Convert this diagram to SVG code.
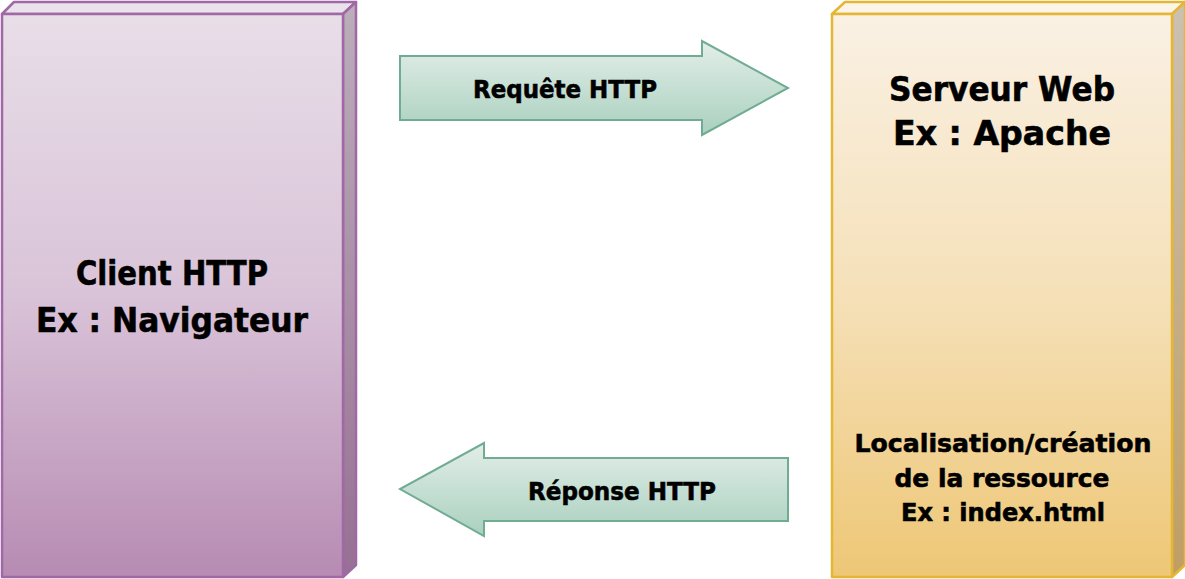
<svg xmlns="http://www.w3.org/2000/svg" width="1185" height="579" viewBox="0 0 1185 579">
<defs>
<linearGradient id="gPurple" x1="0" y1="0" x2="0" y2="1">
<stop offset="0" stop-color="#e8dee8"/><stop offset="0.5" stop-color="#d9c3d8"/><stop offset="1" stop-color="#b78bb3"/>
</linearGradient>
<linearGradient id="gPurpleSide" x1="0" y1="0" x2="0" y2="1">
<stop offset="0" stop-color="#bcaebb"/><stop offset="1" stop-color="#977093"/>
</linearGradient>
<linearGradient id="gGold" x1="0" y1="0" x2="0" y2="1">
<stop offset="0" stop-color="#faf1e4"/><stop offset="0.5" stop-color="#f5e0b8"/><stop offset="1" stop-color="#eec776"/>
</linearGradient>
<linearGradient id="gGoldSide" x1="0" y1="0" x2="0" y2="1">
<stop offset="0" stop-color="#cbc1b3"/><stop offset="1" stop-color="#bf9e63"/>
</linearGradient>
<linearGradient id="gGreen" x1="0" y1="0" x2="0" y2="1">
<stop offset="0" stop-color="#e3eee8"/><stop offset="1" stop-color="#a9d0bf"/>
</linearGradient>
<style>
.pb{stroke:#a068a4;stroke-width:2.5;stroke-linejoin:round}
.gb{stroke:#e4b634;stroke-width:2.5;stroke-linejoin:round}
.ar{fill:url(#gGreen);stroke:#6fac92;stroke-width:2;stroke-linejoin:miter}
text{font-family:"DejaVu Sans","Liberation Sans",sans-serif;font-weight:bold;fill:#000;stroke:#000;stroke-width:0.6;text-anchor:middle}
.big{font-size:33px}
.mid{font-size:25px}
.sm{font-size:25px}
</style>
</defs>
<g id="client">
<polygon points="2,14 14,2 356,2 343,14" fill="#ebe3ec" class="pb"/>
<polygon points="343,14 356,2 356,565 343,577" fill="url(#gPurpleSide)" class="pb"/>
<rect x="2" y="14" width="341" height="563" fill="url(#gPurple)" class="pb"/>
<text class="big" x="172" y="285" textLength="192" lengthAdjust="spacingAndGlyphs">Client HTTP</text>
<text class="big" x="172" y="332" textLength="272" lengthAdjust="spacingAndGlyphs">Ex : Navigateur</text>
</g>
<g id="server">
<polygon points="832,14 845,2 1185,2 1172,14" fill="#fbf4e8" class="gb"/>
<polygon points="1172,14 1185,2 1185,565 1172,577" fill="url(#gGoldSide)" class="gb"/>
<rect x="832" y="14" width="340" height="563" fill="url(#gGold)" class="gb"/>
<text class="big" x="1002" y="101" textLength="226" lengthAdjust="spacingAndGlyphs">Serveur Web</text>
<text class="big" x="1002" y="145" textLength="218" lengthAdjust="spacingAndGlyphs">Ex : Apache</text>
<text class="sm" x="1003" y="452" textLength="297" lengthAdjust="spacingAndGlyphs">Localisation/création</text>
<text class="sm" x="1002" y="487" textLength="215" lengthAdjust="spacingAndGlyphs">de la ressource</text>
<text class="sm" x="1003" y="521" textLength="204" lengthAdjust="spacingAndGlyphs">Ex : index.html</text>
</g>
<g id="connectors">
<g id="request">
<polygon class="ar" points="400,56 702,56 702,41 788,88 702,135 702,120 400,120"/>
<text class="mid" x="565" y="98" textLength="184" lengthAdjust="spacingAndGlyphs">Requête HTTP</text>
</g>
<g id="response">
<polygon class="ar" points="788,458 484,458 484,443 400,489 484,536 484,521 788,521"/>
<text class="mid" x="622" y="500" textLength="188" lengthAdjust="spacingAndGlyphs">Réponse HTTP</text>
</g>
</g>
</svg>
